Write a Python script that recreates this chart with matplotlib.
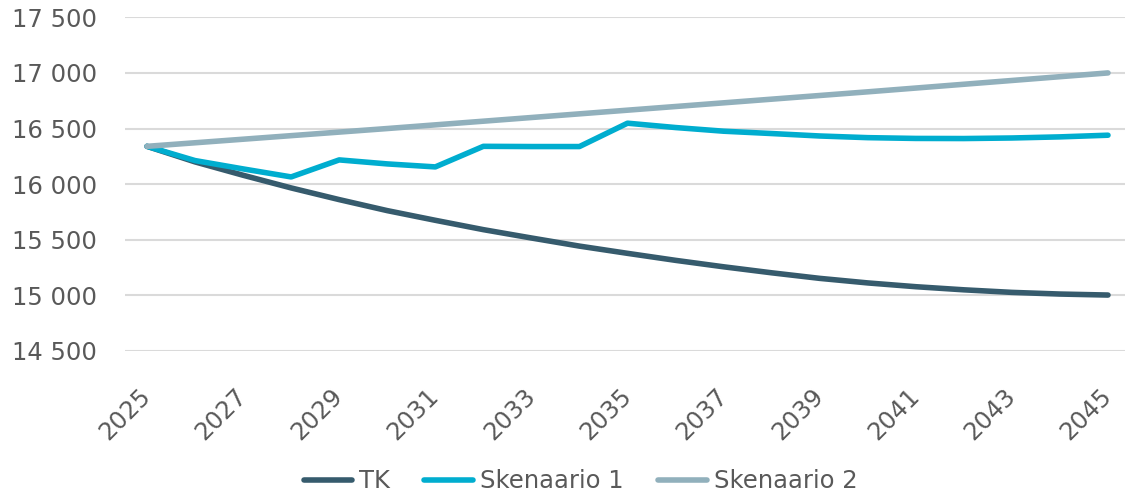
import matplotlib
matplotlib.use("Agg")
import matplotlib.pyplot as plt
from matplotlib.ticker import FuncFormatter, MultipleLocator

# Values
years = list(range(2025, 2046))
tk = [16340, 16200, 16080, 15966, 15861, 15762, 15675, 15591, 15516, 15443, 15378,
      15315, 15257, 15203, 15153, 15112, 15078, 15050, 15027, 15012, 15003]
skenaario_1 = [16340, 16212, 16137, 16065, 16218, 16182, 16155, 16340, 16338, 16338, 16548,
               16509, 16476, 16455, 16433, 16418, 16411, 16410, 16415, 16425, 16440]
skenaario_2 = [16340, 16372, 16404, 16436, 16468, 16500, 16533, 16566, 16599, 16632, 16665,
               16698, 16731, 16764, 16797, 16830, 16864, 16898, 16932, 16966, 17000]
series_names = ["TK", "Skenaario 1", "Skenaario 2"]
colors = ["#365B6D", "#00ADCF", "#91B0BC"]

fig = plt.figure(figsize=(11.25, 4.95), dpi=100)
ax = fig.add_axes([125 / 1125, 1 - 351 / 495, 1 - 125 / 1125, (351 - 17.3) / 495])

for values, name, color in zip([tk, skenaario_1, skenaario_2], series_names, colors):
    ax.plot(years, values, color=color, lw=4, label=name,
            solid_capstyle="round", solid_joinstyle="round", clip_on=False)

ax.set_ylim(14500, 17500)
ax.set_xlim(2025 - 22 / 48.05, 2045 + 17 / 48.05)
ax.yaxis.set_major_locator(MultipleLocator(500))
ax.yaxis.set_major_formatter(FuncFormatter(lambda v, p: f"{int(v):,}".replace(",", " ")))
ax.set_xticks(years[::2])
ax.grid(axis="y", color="#DADADA", lw=1.5)
ax.set_axisbelow(True)
for s in ax.spines.values():
    s.set_visible(False)

ax.tick_params(axis="y", length=0, pad=20, labelsize=17.5, labelcolor="#595959")
ax.tick_params(axis="x", length=0, pad=30, labelsize=17.5, labelcolor="#595959")
for lbl in ax.get_xticklabels():
    lbl.set_rotation(45)
    lbl.set_ha("right")
    lbl.set_va("center")
    lbl.set_rotation_mode("anchor")

fig.legend(loc="center", bbox_to_anchor=(0.516, 0.028), ncol=3, frameon=False,
           fontsize=17.5, labelcolor="#595959", handlelength=2.0, handletextpad=0.3,
           columnspacing=1.4)

fig.savefig("out.png", dpi=100)
